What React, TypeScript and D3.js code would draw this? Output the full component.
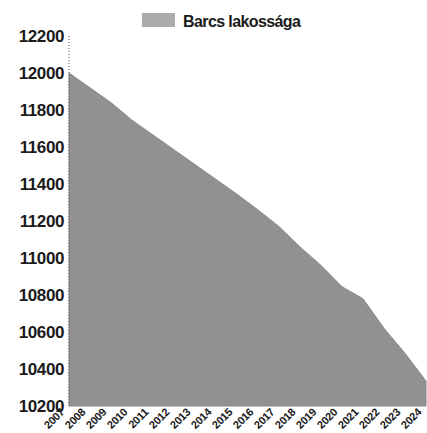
import React, { useEffect, useRef } from 'react';
import * as d3 from 'd3';

const years = [2007, 2008, 2009, 2010, 2011, 2012, 2013, 2014, 2015, 2016, 2017, 2018, 2019, 2020, 2021, 2022, 2023, 2024];
const population = [12000, 11920, 11840, 11745, 11665, 11585, 11505, 11425, 11345, 11260, 11170, 11060, 10960, 10845, 10780, 10620, 10485, 10335];
const yTicks = [10200, 10400, 10600, 10800, 11000, 11200, 11400, 11600, 11800, 12000, 12200];
const seriesName = 'Barcs lakossága';

const App = () => {
  const svgRef = useRef(null);

  useEffect(() => {
    const width = 427;
    const height = 433;
    const margin = { top: 36, right: 1, bottom: 27, left: 69 };

    const svg = d3.select(svgRef.current);
    svg.selectAll('*').remove();
    svg.attr('width', width).attr('height', height);

    const x = d3.scalePoint().domain(years.map(String)).range([margin.left, width - margin.right]);
    const y = d3.scaleLinear().domain([10200, 12200]).range([height - margin.bottom, margin.top]);

    // area
    const area = d3.area()
      .x((d, i) => x(String(years[i])))
      .y0(y(10200))
      .y1(d => y(d));

    svg.append('path')
      .datum(population)
      .attr('fill', '#919191')
      .attr('stroke', '#8a8a8a')
      .attr('stroke-width', 1)
      .attr('d', area);

    // dotted axis line
    svg.append('line')
      .attr('x1', margin.left).attr('x2', margin.left)
      .attr('y1', y(12200)).attr('y2', y(10200))
      .attr('stroke', '#555')
      .attr('stroke-dasharray', '1,2')
      .attr('stroke-width', 1);

    // y labels
    svg.append('g')
      .selectAll('text')
      .data(yTicks)
      .enter().append('text')
      .attr('x', margin.left - 5)
      .attr('y', d => y(d))
      .attr('dy', '0.36em')
      .attr('text-anchor', 'end')
      .attr('font-family', 'Liberation Sans, Arial, sans-serif')
      .attr('font-size', 17)
      .attr('font-weight', 'bold')
      .attr('letter-spacing', '-0.4')
      .attr('fill', '#1a1a1a')
      .text(d => d);

    // x labels
    svg.append('g')
      .selectAll('text')
      .data(years)
      .enter().append('text')
      .attr('transform', d => `translate(${x(String(d)) - 4},${height - margin.bottom + 7}) rotate(-45)`)
      .attr('text-anchor', 'end')
      .attr('font-family', 'Liberation Sans, Arial, sans-serif')
      .attr('font-size', 11)
      .attr('font-weight', 'bold')
      .attr('letter-spacing', '-0.3')
      .attr('fill', '#1a1a1a')
      .text(d => d);

    // legend
    const legend = svg.append('g');
    legend.append('rect')
      .attr('x', 142).attr('y', 13)
      .attr('width', 33).attr('height', 14)
      .attr('fill', '#ababab');
    legend.append('text')
      .attr('x', 183).attr('y', 27)
      .attr('font-family', 'Liberation Sans, Arial, sans-serif')
      .attr('font-size', 16)
      .attr('font-weight', 'bold')
      .attr('letter-spacing', '-0.6')
      .attr('fill', '#1a1a1a')
      .text(seriesName);
  }, []);

  return <svg ref={svgRef} style={{ position: 'absolute', left: 0, top: 0, background: '#fff' }}></svg>;
};

export default App;
